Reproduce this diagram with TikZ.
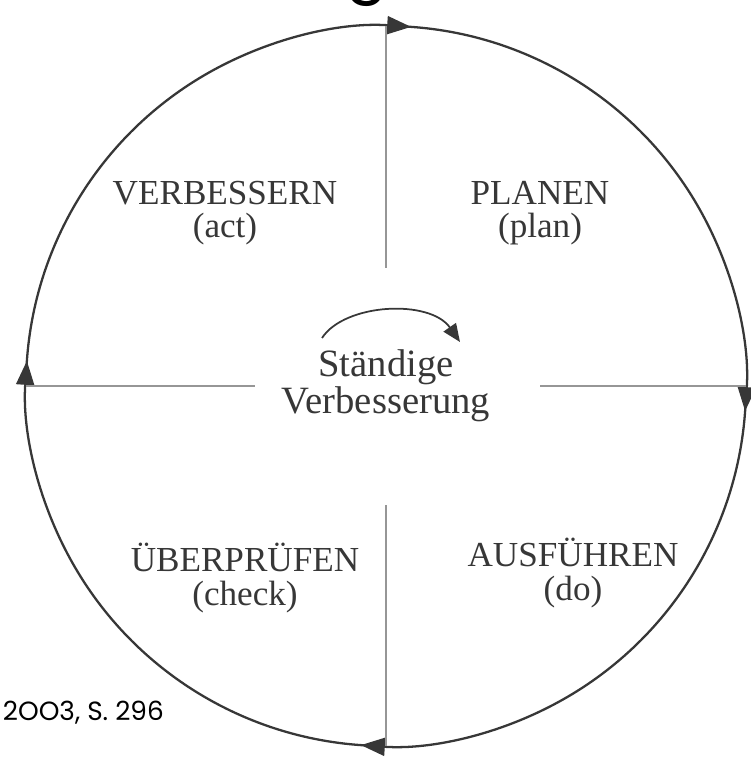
\documentclass[tikz,border=0pt]{standalone}
\usepackage{fontspec}
\setmainfont{Liberation Serif}
\newfontfamily\captionfont{Poppins}
\usetikzlibrary{arrows.meta}
\definecolor{InkGray}{RGB}{55,55,55}
\definecolor{SpokeGray}{RGB}{150,150,150}

\begin{document}
\begin{tikzpicture}[x=0.02cm, y=0.02cm,
  every node/.style={align=center, text=InkGray},
  quadlabel/.style={font=\fontsize{20}{19}\selectfont},
  ring/.style={line width=1.3pt, InkGray, -{Triangle[length=0.48cm, width=0.36cm]}},
  spoke/.style={line width=0.9pt, SpokeGray}]
  \useasboundingbox (0,0) rectangle (751,765);
  \coordinate (c) at (386,379);
  \coordinate (top) at (386,739);
  \coordinate (right) at (746,379);
  \coordinate (bottom) at (386,19);
  \coordinate (left) at (26,379);
  \coordinate (ti) at (386,497);
  \coordinate (ri) at (540,379);
  \coordinate (bi) at (386,260);
  \coordinate (li) at (255,379);
  \draw[ring] (left) arc[start angle=180, end angle=86, radius=360];
  \draw[ring] (top) arc[start angle=90, end angle=-4, radius=360];
  \draw[ring] (right) arc[start angle=0, end angle=-94, radius=360];
  \draw[ring] (bottom) arc[start angle=-90, end angle=-184, radius=360];
  \draw[spoke] (top) -- (ti);
  \draw[spoke] (right) -- (ri);
  \draw[spoke] (bottom) -- (bi);
  \draw[spoke] (left) -- (li);
  \node[font=\fontsize{22}{20}\selectfont] (mid) at (c) {Ständige\\Verbesserung};
  \coordinate (ca) at (322,427);
  \coordinate (cb) at (460,423);
  \draw[line width=1pt, InkGray, -{Triangle[length=0.36cm, width=0.3cm]}]
    (ca) .. controls (345,462) and (430,466) .. (cb);
  \node[quadlabel] (act) at (225,552) {VERBESSERN\\(act)};
  \node[quadlabel] (plan) at (540,552) {PLANEN\\(plan)};
  \node[quadlabel] (check) at (245,187) {ÜBERPRÜFEN\\(check)};
  \node[quadlabel] (do) at (573,192) {AUSFÜHREN\\(do)};
  \node[font=\captionfont\fontsize{15}{20}\selectfont, text=black, anchor=base east]
    (src) at (170,45) {2OO3, S. 296};
  \node[font=\captionfont\fontsize{36}{40}\selectfont, text=black, anchor=base]
    (head) at (367,775) {g};
\end{tikzpicture}
\end{document}
